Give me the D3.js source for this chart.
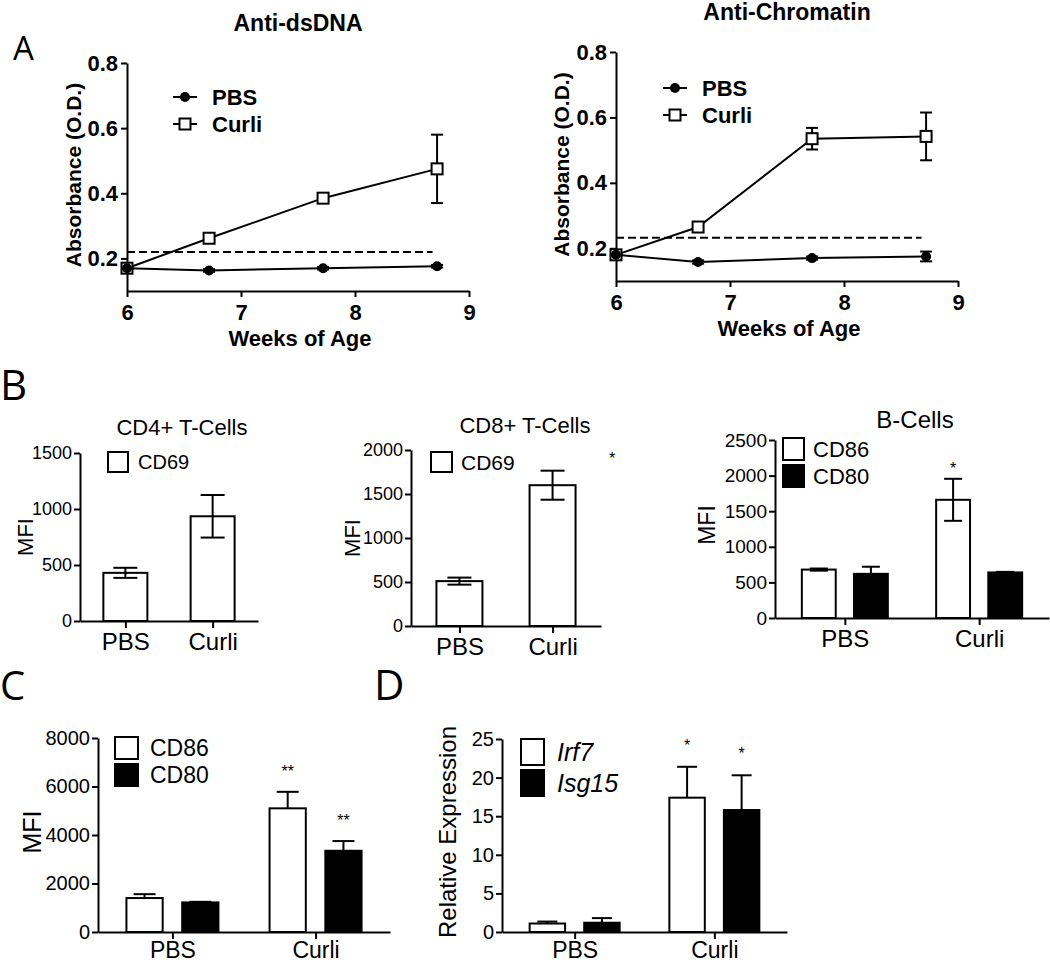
<!DOCTYPE html>
<html>
<head>
<meta charset="utf-8">
<script src="https://cdn.jsdelivr.net/npm/d3@7"></script>
<style>
body { margin: 0; background: #fff; }
svg text { font-family: "Liberation Sans", Arial, sans-serif; fill: #000; }
</style>
</head>
<body>
<div id="chart"></div>
<script>
// ---- Datos ----
// Panel A: semanas de edad
const weeks = [6, 6.72, 7.72, 8.72];
const weekTicks = [6, 7, 8, 9];
const absTicks = [0.2, 0.4, 0.6, 0.8];

const dsdnaPbs = [0.17, 0.163, 0.17, 0.176];
const dsdnaPbsErr = [0.005, 0.004, 0.004, 0.004];
const dsdnaCurli = [0.17, 0.262, 0.385, 0.475];
const dsdnaCurliErr = [0.008, 0.01, 0.01, 0.105];
const dsdnaCutoff = 0.22;

const chromPbs = [0.18, 0.158, 0.17, 0.175];
const chromPbsErr = [0.01, 0.005, 0.005, 0.015];
const chromCurli = [0.18, 0.265, 0.535, 0.542];
const chromCurliErr = [0.01, 0.015, 0.033, 0.073];
const chromCutoff = 0.232;

// Paneles B, C, D
const groups = ["PBS", "Curli"];

const cd4Cd69 = [430, 935];
const cd4Cd69Err = [45, 190];
const cd4Ticks = [0, 500, 1000, 1500];

const cd8Cd69 = [510, 1600];
const cd8Cd69Err = [40, 165];
const cd8Ticks = [0, 500, 1000, 1500, 2000];

const bCd86 = [680, 1660];
const bCd86Err = [15, 295];
const bCd86Stars = ["", "*"];
const bCd80 = [620, 640];
const bCd80Err = [100, 8];
const bTicks = [0, 500, 1000, 1500, 2000, 2500];

const dcCd86 = [1400, 5100];
const dcCd86Err = [160, 680];
const dcCd86Stars = ["", "**"];
const dcCd80 = [1220, 3350];
const dcCd80Err = [25, 400];
const dcCd80Stars = ["", "**"];
const dcTicks = [0, 2000, 4000, 6000, 8000];

const irf7 = [1.1, 17.4];
const irf7Err = [0.25, 4.0];
const irf7Stars = ["", "*"];
const isg15 = [1.2, 15.8];
const isg15Err = [0.6, 4.5];
const isg15Stars = ["", "*"];
const relTicks = [0, 5, 10, 15, 20, 25];

// ---- SVG ----
const svg = d3.select("#chart").append("svg")
    .attr("width", 1050)
    .attr("height", 964);

function styleAxis(sel, size, bold) {
    sel.attr("font-family", null).attr("font-size", null);
    sel.select(".domain").attr("stroke-width", 2);
    sel.selectAll(".tick line").attr("stroke-width", 2);
    sel.selectAll(".tick text")
        .style("font-size", size + "px")
        .style("font-weight", bold ? "bold" : "normal");
}

// Letras de panel
function panelLetter(txt, x, y, size) {
    svg.append("text")
        .attr("x", x).attr("y", y)
        .style("font-family", "'Open Sans', 'Noto Sans', sans-serif")
        .style("font-size", size + "px")
        .text(txt);
}
panelLetter("A", 13, 60, 33);
panelLetter("B", 0, 400, 42);
panelLetter("C", 0, 700, 40);
panelLetter("D", 374, 700, 42);

// ---- Gráfico de líneas (panel A) ----
function linePanel(o) {
    const x = d3.scaleLinear().domain([6, 9]).range([o.x0, o.x1]);
    const y = d3.scaleLinear().domain([0.1, 0.8]).range([o.yBot, o.yTop]);
    const g = svg.append("g");

    g.append("g")
        .attr("transform", `translate(0,${o.yBot})`)
        .call(d3.axisBottom(x).tickValues(weekTicks).tickFormat(d3.format("d")).tickSize(6).tickSizeOuter(0).tickPadding(7))
        .call(s => styleAxis(s, 22, true));

    g.append("g")
        .attr("transform", `translate(${o.x0},0)`)
        .call(d3.axisLeft(y).tickValues(absTicks).tickFormat(d3.format(".1f")).tickSize(6).tickSizeOuter(0).tickPadding(3))
        .call(s => styleAxis(s, 22, true));

    // título
    g.append("text").attr("x", o.titleX).attr("y", o.titleY)
        .attr("text-anchor", "middle")
        .style("font-size", "23px").style("font-weight", "bold")
        .text(o.title);
    g.append("text").attr("x", (o.x0 + o.x1) / 2 + 2).attr("y", o.yBot + 55)
        .attr("text-anchor", "middle")
        .style("font-size", "22px").style("font-weight", "bold")
        .text("Weeks of Age");
    g.append("text")
        .attr("transform", `translate(${o.yLabelX},${(o.yTop + o.yBot) / 2 - 2}) rotate(-90)`)
        .attr("text-anchor", "middle").attr("dy", "0.35em")
        .style("font-size", "21px").style("font-weight", "bold")
        .text("Absorbance (O.D.)");

    // línea de corte punteada
    g.append("line")
        .attr("x1", x(6)).attr("x2", x(8.68))
        .attr("y1", y(o.cutoff)).attr("y2", y(o.cutoff))
        .attr("stroke", "#000").attr("stroke-width", 2)
        .attr("stroke-dasharray", "8,4");

    const line = d3.line().x((d, i) => x(weeks[i])).y(d => y(d));
    [o.curli, o.pbs].forEach(vals => {
        g.append("path").datum(vals)
            .attr("d", line)
            .attr("fill", "none").attr("stroke", "#000").attr("stroke-width", 2);
    });

    // barras de error
    [[o.curli, o.curliErr], [o.pbs, o.pbsErr]].forEach(([vals, errs]) => {
        vals.forEach((v, i) => {
            const cx = x(weeks[i]);
            const e = g.append("g").attr("stroke", "#000").attr("stroke-width", 2);
            e.append("line").attr("x1", cx).attr("x2", cx).attr("y1", y(v - errs[i])).attr("y2", y(v + errs[i]));
            [v - errs[i], v + errs[i]].forEach(t => {
                e.append("line").attr("x1", cx - 6).attr("x2", cx + 6).attr("y1", y(t)).attr("y2", y(t));
            });
        });
    });

    // marcadores
    g.selectAll(".sq").data(o.curli).enter().append("rect")
        .attr("x", (d, i) => x(weeks[i]) - 5.5).attr("y", d => y(d) - 5.5)
        .attr("width", 11).attr("height", 11)
        .attr("fill", "#fff").attr("stroke", "#000").attr("stroke-width", 2);
    g.selectAll(".dot").data(o.pbs).enter().append("circle")
        .attr("cx", (d, i) => x(weeks[i])).attr("cy", d => y(d))
        .attr("r", 5).attr("fill", "#000");

    // leyenda
    const lg = g.append("g").attr("transform", `translate(${o.legendX},${o.legendY})`);
    ["PBS", "Curli"].forEach((name, i) => {
        const row = lg.append("g").attr("transform", `translate(0,${i * 27})`);
        row.append("line").attr("x1", 0).attr("x2", 24).attr("stroke", "#000").attr("stroke-width", 2);
        if (i === 0) row.append("circle").attr("cx", 12).attr("r", 5).attr("fill", "#000");
        else row.append("rect").attr("x", 6.5).attr("y", -5.5).attr("width", 11).attr("height", 11)
            .attr("fill", "#fff").attr("stroke", "#000").attr("stroke-width", 2);
        row.append("text").attr("x", 39).attr("dy", "0.36em")
            .style("font-size", "22px").style("font-weight", "bold")
            .text(name);
    });
}

linePanel({ x0: 127, x1: 469, yTop: 63, yBot: 291, title: "Anti-dsDNA", titleX: 298, titleY: 31,
    yLabelX: 74, pbs: dsdnaPbs, pbsErr: dsdnaPbsErr, curli: dsdnaCurli, curliErr: dsdnaCurliErr,
    cutoff: dsdnaCutoff, legendX: 173, legendY: 97 });
linePanel({ x0: 616, x1: 958, yTop: 52, yBot: 281, title: "Anti-Chromatin", titleX: 787, titleY: 20,
    yLabelX: 562, pbs: chromPbs, pbsErr: chromPbsErr, curli: chromCurli, curliErr: chromCurliErr,
    cutoff: chromCutoff, legendX: 663, legendY: 88 });

// ---- Gráficos de barras (paneles B, C, D) ----
function barPanel(o) {
    const x = d3.scalePoint().domain(groups).range([o.x0, o.x1]).padding(0.52);
    const y = d3.scaleLinear().domain([0, o.max]).range([o.yBot, o.yTop]);
    const sub = d3.scaleBand().domain(o.series.map(s => s.name))
        .range([-o.half, o.half]).paddingInner(o.series.length > 1 ? 0.35 : 0);
    const g = svg.append("g");

    g.append("g")
        .attr("transform", `translate(0,${o.yBot})`)
        .call(d3.axisBottom(x).tickSize(7).tickSizeOuter(0).tickPadding(o.catPad))
        .call(s => styleAxis(s, o.catSize, false));
    g.append("g")
        .attr("transform", `translate(${o.x0},0)`)
        .call(d3.axisLeft(y).tickValues(o.ticks).tickFormat(d3.format("d")).tickSize(6).tickSizeOuter(0).tickPadding(2))
        .call(s => styleAxis(s, o.tickSize, false));

    o.series.forEach(s => {
        s.values.forEach((v, i) => {
            const bx = x(groups[i]) + sub(s.name);
            g.append("rect")
                .attr("x", bx).attr("y", y(v))
                .attr("width", sub.bandwidth()).attr("height", y(0) - y(v))
                .attr("fill", s.fill).attr("stroke", "#000").attr("stroke-width", 2);
            const cx = bx + sub.bandwidth() / 2;
            const lo = o.oneSided ? v : v - s.errs[i];
            const hi = v + s.errs[i];
            const e = g.append("g").attr("stroke", "#000").attr("stroke-width", 2);
            e.append("line").attr("x1", cx).attr("x2", cx).attr("y1", y(lo)).attr("y2", y(hi));
            e.append("line").attr("x1", cx - o.capW / 2).attr("x2", cx + o.capW / 2).attr("y1", y(hi)).attr("y2", y(hi));
            if (!o.oneSided) {
                e.append("line").attr("x1", cx - o.capW / 2).attr("x2", cx + o.capW / 2).attr("y1", y(lo)).attr("y2", y(lo));
            }
            if (s.stars && s.stars[i]) {
                g.append("text")
                    .attr("x", cx).attr("y", y(hi) - o.starGap + 9)
                    .attr("text-anchor", "middle")
                    .style("font-size", "16px")
                    .text(s.stars[i]);
            }
        });
    });

    if (o.title) {
        g.append("text").attr("x", o.titleX).attr("y", o.titleY)
            .attr("text-anchor", "middle").style("font-size", o.titleSize + "px")
            .text(o.title);
    }
    g.append("text")
        .attr("transform", `translate(${o.yLabelX},${o.yLabelY}) rotate(-90)`)
        .attr("text-anchor", "middle").attr("dy", "0.35em")
        .style("font-size", o.yLabelSize + "px")
        .text(o.yLabel);

    // leyenda
    const lg = g.append("g").attr("transform", `translate(${o.legendX},${o.legendY})`);
    o.series.forEach((s, i) => {
        const row = lg.append("g").attr("transform", `translate(0,${i * (o.boxH + 5)})`);
        row.append("rect").attr("width", o.boxW).attr("height", o.boxH)
            .attr("fill", s.fill).attr("stroke", "#000").attr("stroke-width", 2);
        row.append("text").attr("x", o.textX).attr("y", o.boxH / 2).attr("dy", "0.36em")
            .style("font-size", o.legendSize + "px")
            .style("font-style", o.italic ? "italic" : "normal")
            .text(s.name);
    });
    return { x, y, g };
}

barPanel({ x0: 80, x1: 258, yTop: 453, yBot: 621, max: 1500, ticks: cd4Ticks, tickSize: 18,
    catSize: 24, catPad: 5,
    half: 22, capW: 24, oneSided: false, starGap: 14,
    series: [{ name: "CD69", values: cd4Cd69, errs: cd4Cd69Err, fill: "#fff" }],
    title: "CD4+ T-Cells", titleX: 182, titleY: 435, titleSize: 22,
    yLabel: "MFI", yLabelX: 25, yLabelY: 537, yLabelSize: 22,
    legendX: 108, legendY: 452, boxW: 20, boxH: 20, textX: 30, legendSize: 20 });

const cd8 = barPanel({ x0: 411, x1: 601, yTop: 450, yBot: 626, max: 2000, ticks: cd8Ticks, tickSize: 18,
    catSize: 24, catPad: 5,
    half: 23, capW: 24, oneSided: false, starGap: 14,
    series: [{ name: "CD69", values: cd8Cd69, errs: cd8Cd69Err, fill: "#fff" }],
    title: "CD8+ T-Cells", titleX: 525, titleY: 433, titleSize: 22,
    yLabel: "MFI", yLabelX: 352, yLabelY: 538, yLabelSize: 22,
    legendX: 431, legendY: 452, boxW: 21, boxH: 20, textX: 30, legendSize: 21 });
// asterisco suelto a la derecha del panel CD8
cd8.g.append("text").attr("x", 612).attr("y", cd8.y(1940) + 9)
    .attr("text-anchor", "middle").style("font-size", "16px").text("*");

barPanel({ x0: 775, x1: 1049, yTop: 440, yBot: 618, max: 2500, ticks: bTicks, tickSize: 19,
    catSize: 24, catPad: 5,
    half: 43, capW: 18, oneSided: false, starGap: 14,
    series: [{ name: "CD86", values: bCd86, errs: bCd86Err, fill: "#fff", stars: bCd86Stars },
             { name: "CD80", values: bCd80, errs: bCd80Err, fill: "#000" }],
    title: "B-Cells", titleX: 915, titleY: 428, titleSize: 24,
    yLabel: "MFI", yLabelX: 707, yLabelY: 525, yLabelSize: 23,
    legendX: 783, legendY: 438, boxW: 21, boxH: 22, textX: 30, legendSize: 22 });

barPanel({ x0: 98, x1: 390, yTop: 738, yBot: 932, max: 8000, ticks: dcTicks, tickSize: 20,
    catSize: 23, catPad: 3,
    half: 46, capW: 22, oneSided: true, starGap: 24,
    series: [{ name: "CD86", values: dcCd86, errs: dcCd86Err, fill: "#fff", stars: dcCd86Stars },
             { name: "CD80", values: dcCd80, errs: dcCd80Err, fill: "#000", stars: dcCd80Stars }],
    yLabel: "MFI", yLabelX: 32, yLabelY: 832, yLabelSize: 25,
    legendX: 115, legendY: 737, boxW: 23, boxH: 22, textX: 35, legendSize: 23 });

barPanel({ x0: 502, x1: 787, yTop: 739, yBot: 932, max: 25, ticks: relTicks, tickSize: 20,
    catSize: 23, catPad: 3,
    half: 45, capW: 20, oneSided: true, starGap: 25,
    series: [{ name: "Irf7", values: irf7, errs: irf7Err, fill: "#fff", stars: irf7Stars },
             { name: "Isg15", values: isg15, errs: isg15Err, fill: "#000", stars: isg15Stars }],
    yLabel: "Relative Expression", yLabelX: 448, yLabelY: 832, yLabelSize: 24,
    legendX: 521, legendY: 739, boxW: 23, boxH: 26, textX: 36, legendSize: 25, italic: true });
</script>
</body>
</html>
